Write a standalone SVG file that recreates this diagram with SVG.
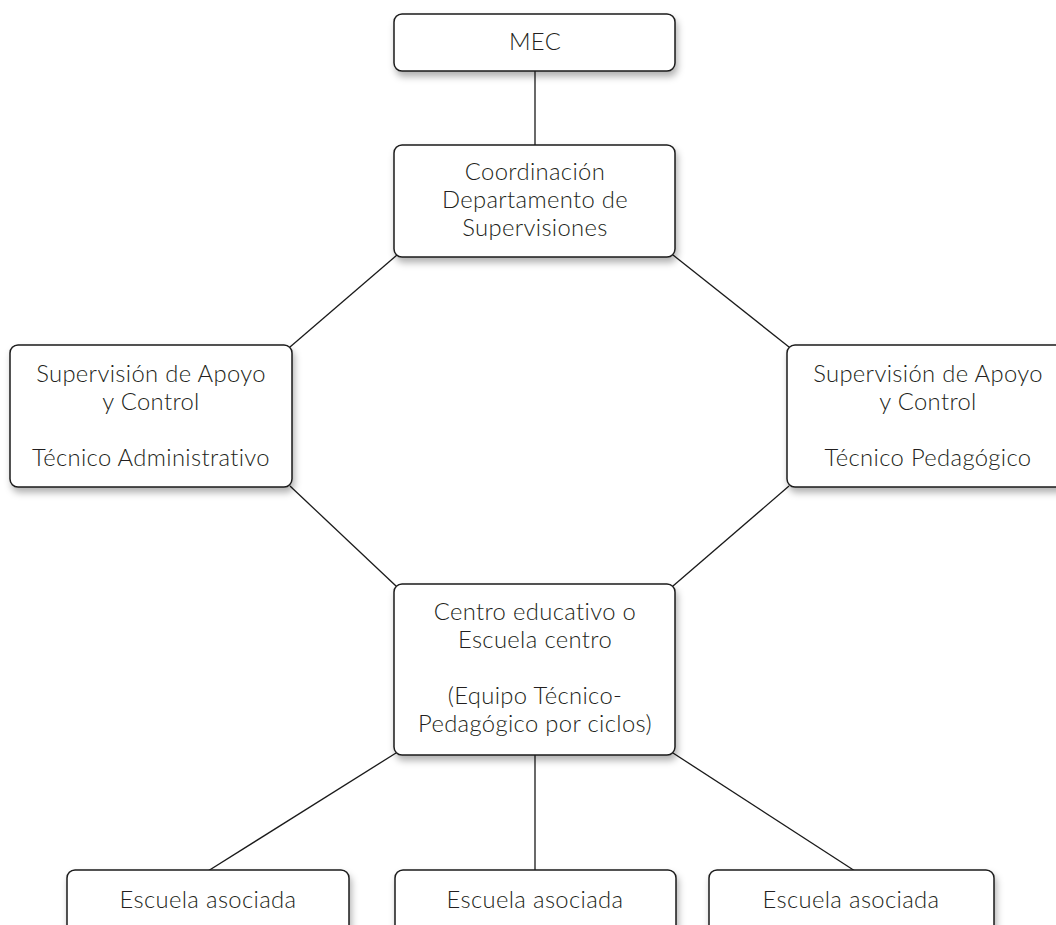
<svg xmlns="http://www.w3.org/2000/svg" width="1056" height="925" viewBox="0 0 1056 925">
<defs>
<filter id="sh" x="-10%" y="-10%" width="130%" height="140%">
<feDropShadow dx="2" dy="5" stdDeviation="3.5" flood-color="#000" flood-opacity="0.3"/>
</filter>
<style>
.box{fill:#fff;stroke:#1a1a1a;stroke-width:1.5;filter:url(#sh)}
.t{font-family:Lato,"Open Sans","Liberation Sans",sans-serif;font-weight:300;font-size:23.8px;letter-spacing:0.35px;fill:#231f20;text-anchor:middle}
.c{stroke:#1a1a1a;stroke-width:1.3;fill:none}
</style>
</defs>
<rect width="1056" height="925" fill="#fff"/>
<g id="connectors">
<line class="c" x1="535" y1="71" x2="535" y2="145"/>
<line class="c" x1="397" y1="255" x2="290" y2="347"/>
<line class="c" x1="673" y1="255" x2="789" y2="347"/>
<line class="c" x1="290" y1="486" x2="396" y2="586"/>
<line class="c" x1="789" y1="486" x2="673" y2="586"/>
<line class="c" x1="396" y1="753" x2="208" y2="871"/>
<line class="c" x1="535" y1="755" x2="535" y2="871"/>
<line class="c" x1="673" y1="753" x2="855" y2="871"/>
</g>
<g id="mec">
<rect class="box" x="394" y="14" width="281" height="57" rx="8"/>
<text class="t" x="535" y="50">MEC</text>
</g>
<g id="coordinacion">
<rect class="box" x="394" y="145" width="281" height="112" rx="8"/>
<text class="t" x="535" y="180">Coordinación</text>
<text class="t" x="535" y="208">Departamento de</text>
<text class="t" x="535" y="236">Supervisiones</text>
</g>
<g id="sup-admin">
<rect class="box" x="10" y="345" width="282" height="142" rx="8"/>
<text class="t" x="151" y="382">Supervisión de Apoyo</text>
<text class="t" x="151" y="410">y Control</text>
<text class="t" x="151" y="466">Técnico Administrativo</text>
</g>
<g id="sup-ped">
<rect class="box" x="787" y="345" width="282" height="142" rx="8"/>
<text class="t" x="928" y="382">Supervisión de Apoyo</text>
<text class="t" x="928" y="410">y Control</text>
<text class="t" x="928" y="466">Técnico Pedagógico</text>
</g>
<g id="centro">
<rect class="box" x="394" y="584" width="281" height="171" rx="8"/>
<text class="t" x="535" y="620">Centro educativo o</text>
<text class="t" x="535" y="648">Escuela centro</text>
<text class="t" x="535" y="704">(Equipo Técnico-</text>
<text class="t" x="535" y="732">Pedagógico por ciclos)</text>
</g>
<g id="escuela1">
<rect class="box" x="67" y="870" width="282" height="80" rx="8"/>
<text class="t" x="208" y="908">Escuela asociada</text>
</g>
<g id="escuela2">
<rect class="box" x="395" y="870" width="281" height="80" rx="8"/>
<text class="t" x="535" y="908">Escuela asociada</text>
</g>
<g id="escuela3">
<rect class="box" x="709" y="870" width="285" height="80" rx="8"/>
<text class="t" x="851" y="908">Escuela asociada</text>
</g>
</svg>
